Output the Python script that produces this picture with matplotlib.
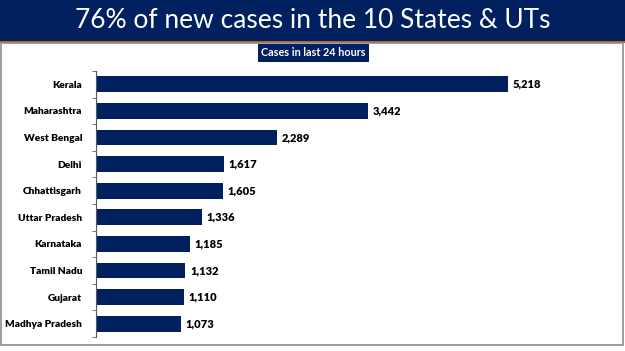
import numpy as np
import matplotlib.pyplot as plt
from matplotlib.patches import Rectangle

states = ['Kerala', 'Maharashtra', 'West Bengal', 'Delhi', 'Chhattisgarh',
          'Uttar Pradesh', 'Karnataka', 'Tamil Nadu', 'Gujarat', 'Madhya Pradesh']
cases = [5218, 3442, 2289, 1617, 1605, 1336, 1185, 1132, 1110, 1073]

title = '76% of new cases in the 10 States & UTs'
subtitle = 'Cases in last 24 hours'

navy = '#002060'
W, H = 625, 351

fig = plt.figure(figsize=(W / 100, H / 100), dpi=100)
fig.patch.set_facecolor('white')

# banner + frame
fig.add_artist(Rectangle((0, 1 - 41 / H), 1, 41 / H, transform=fig.transFigure,
                         facecolor=navy, edgecolor='none'))
fig.add_artist(Rectangle((0, 1 - 43 / H), 1, 2 / H, transform=fig.transFigure,
                         facecolor='#c55a11', edgecolor='none'))
fig.add_artist(Rectangle((1.5 / W, 1 - 345 / H), 621 / W, 302 / H, transform=fig.transFigure,
                         facecolor='none', edgecolor='#8c8c8c', linewidth=1.2))
fig.text(0.5, 1 - 21 / H, title, color='white', fontsize=19, family='Lato',
         ha='center', va='center')
fig.text(313 / W, 1 - 53 / H, subtitle, color='white', fontsize=7.8, family='Lato',
         fontweight='bold', ha='center', va='center',
         bbox=dict(boxstyle='square,pad=0.3', facecolor=navy, edgecolor='none'))

ax = fig.add_axes([96 / W, 1 - 337 / H, 512 / W, 266 / H])
y = np.arange(len(states))
ax.barh(y, cases, height=0.6, color=navy)
ax.set_ylim(len(states) - 0.5, -0.5)
ax.set_xlim(0, 6480)
ax.set_yticks(y)
ax.set_yticklabels(states, fontsize=7.3, fontweight='heavy', family='Lato')
ax.tick_params(axis='y', which='major', length=0, pad=10)
ax.set_yticks(np.arange(-0.5, len(states)), minor=True)
ax.tick_params(axis='y', which='minor', length=3, color='#595959')
ax.set_xticks([])
for s in ['top', 'right', 'bottom']:
    ax.spines[s].set_visible(False)
ax.spines['left'].set_color('#595959')
for yi, v in zip(y, cases):
    ax.text(v + 60, yi, f'{v:,}', va='center', ha='left', fontsize=8,
            fontweight='heavy', family='Lato')

fig.savefig('out.png', dpi=100)
